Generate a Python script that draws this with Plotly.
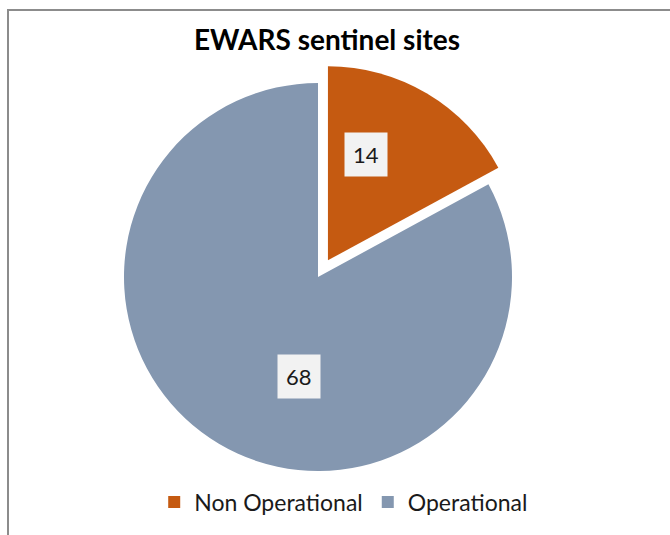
import math
import plotly.graph_objects as go

# ---- data ----
categories = ["Non Operational", "Operational"]
values = [14, 68]
pulls = [0.1, 0.0]
colors = ["#C55A11", "#8497B0"]
title_text = "EWARS sentinel sites"

# ---- layout geometry (pixels) ----
W, H = 670, 535
CX, CY, R = 318, 277, 194          # pie centre and radius
max_pull = max(pulls)
half = R * (1 + max_pull)
dom_x = [(CX - half) / W, (CX + half) / W]
dom_y = [1 - (CY + half) / H, 1 - (CY - half) / H]

FONT = "Lato, Calibri, 'Open Sans', sans-serif"

fig = go.Figure(go.Pie(
    labels=categories,
    values=values,
    pull=pulls,
    marker=dict(colors=colors, line=dict(width=0)),
    sort=False,
    direction="clockwise",
    rotation=0,
    textinfo="none",
    hoverinfo="label+value",
    domain=dict(x=dom_x, y=dom_y),
))

# value labels in boxes, positioned from the data angles
total = sum(values)
LABEL_ROT = [-11, -20]   # degrees, label offset from slice mid-angle
LABEL_FR = [0.58, 0.52]  # radial fraction of radius
annotations = []
cum = 0
for i, v in enumerate(values):
    start = cum / total * 360
    cum += v
    end = cum / total * 360
    mid = (start + end) / 2
    pcx = CX + pulls[i] * R * math.sin(math.radians(mid))
    pcy = CY - pulls[i] * R * math.cos(math.radians(mid))
    a = math.radians(mid + LABEL_ROT[i])
    px = pcx + LABEL_FR[i] * R * math.sin(a)
    py = pcy - LABEL_FR[i] * R * math.cos(a)
    annotations.append(dict(
        x=px / W, y=1 - py / H, xref="paper", yref="paper",
        text=str(v), showarrow=False,
        font=dict(family=FONT, size=22, color="#1a1a1a"),
        bgcolor="#F2F2F2", borderpad=8,
        xanchor="center", yanchor="middle",
    ))

fig.update_layout(
    width=W, height=H,
    margin=dict(l=0, r=0, t=0, b=0),
    paper_bgcolor="white",
    plot_bgcolor="white",
    title=dict(
        text="<b>" + title_text + "</b>",
        x=327 / W, y=1 - 40 / H, xanchor="center", yanchor="middle",
        font=dict(family=FONT, size=28, color="#000000"),
    ),
    legend=dict(
        orientation="h",
        x=0.513, xanchor="center",
        y=1 - 502 / H, yanchor="middle",
        font=dict(family=FONT, size=23, color="#1a1a1a"),
        itemclick=False,
    ),
    annotations=annotations,
    shapes=[dict(
        type="rect", xref="paper", yref="paper",
        x0=8 / W, x1=1.05, y0=-0.05, y1=1 - 10 / H,
        line=dict(color="#8c8c8c", width=2), fillcolor="rgba(0,0,0,0)",
        layer="below",
    )],
)

fig.write_html("out.html", config={"displayModeBar": False},
               post_script="document.body.style.margin='0';")
